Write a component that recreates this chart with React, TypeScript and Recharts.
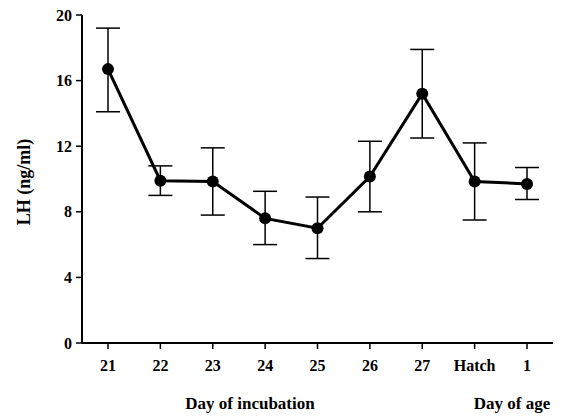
import { LineChart, Line, XAxis, YAxis, ErrorBar, Label } from 'recharts';

const days = ['21', '22', '23', '24', '25', '26', '27', 'Hatch', '1'];
const lhMean = [16.7, 9.9, 9.85, 7.6, 7.0, 10.15, 15.2, 9.85, 9.7];
const lhUpper = [19.2, 10.8, 11.9, 9.25, 8.9, 12.3, 17.9, 12.2, 10.7];
const lhLower = [14.1, 9.0, 7.8, 6.0, 5.15, 8.0, 12.5, 7.5, 8.75];
const yTicks = [0, 4, 8, 12, 16, 20];

const data = days.map((day, i) => ({
  day,
  lh: lhMean[i],
  err: [lhMean[i] - lhLower[i], lhUpper[i] - lhMean[i]],
}));

const font = '"Liberation Serif", "Times New Roman", serif';
const tickStyle = { fontFamily: font, fontWeight: 700, fontSize: 16, fill: '#000' };

export default function App() {
  return (
    <div style={{ position: 'relative', width: 570, height: 419, background: '#fff' }}>
      <style>{'body{margin:0}'}</style>
      <LineChart width={570} height={419} data={data} margin={{ top: 15, right: 17, left: 22, bottom: 46 }}>
        <XAxis
          dataKey="day"
          height={30}
          padding={{ left: 26, right: 26 }}
          tick={tickStyle}
          tickLine={{ stroke: '#000', strokeWidth: 1.5 }}
          axisLine={{ stroke: '#000', strokeWidth: 2 }}
          tickSize={6}
          tickMargin={11}
          interval={0}
        />
        <YAxis
          width={60}
          domain={[0, 20]}
          ticks={yTicks}
          tick={tickStyle}
          tickLine={{ stroke: '#000', strokeWidth: 1.5 }}
          axisLine={{ stroke: '#000', strokeWidth: 2 }}
          tickSize={6}
          tickMargin={4}
        >
          <Label
            value="LH (ng/ml)"
            angle={-90}
            position="insideLeft"
            offset={2}
            dy={3}
            style={{ fontFamily: font, fontWeight: 700, fontSize: 18, fill: '#000', textAnchor: 'middle' }}
          />
        </YAxis>
        <Line
          type="linear"
          dataKey="lh"
          stroke="#000"
          strokeWidth={3}
          dot={{ r: 6, fill: '#000', stroke: '#000', strokeWidth: 0 }}
          activeDot={false}
          isAnimationActive={false}
        >
          <ErrorBar dataKey="err" direction="y" width={12} stroke="#000" strokeWidth={1.5} />
        </Line>
      </LineChart>
      <div style={{ position: 'absolute', left: 150, width: 200, top: 394, textAlign: 'center', fontFamily: font, fontWeight: 700, fontSize: 17, lineHeight: '20px' }}>
        Day of incubation
      </div>
      <div style={{ position: 'absolute', left: 452, width: 120, top: 394, textAlign: 'center', fontFamily: font, fontWeight: 700, fontSize: 17, lineHeight: '20px' }}>
        Day of age
      </div>
    </div>
  );
}
